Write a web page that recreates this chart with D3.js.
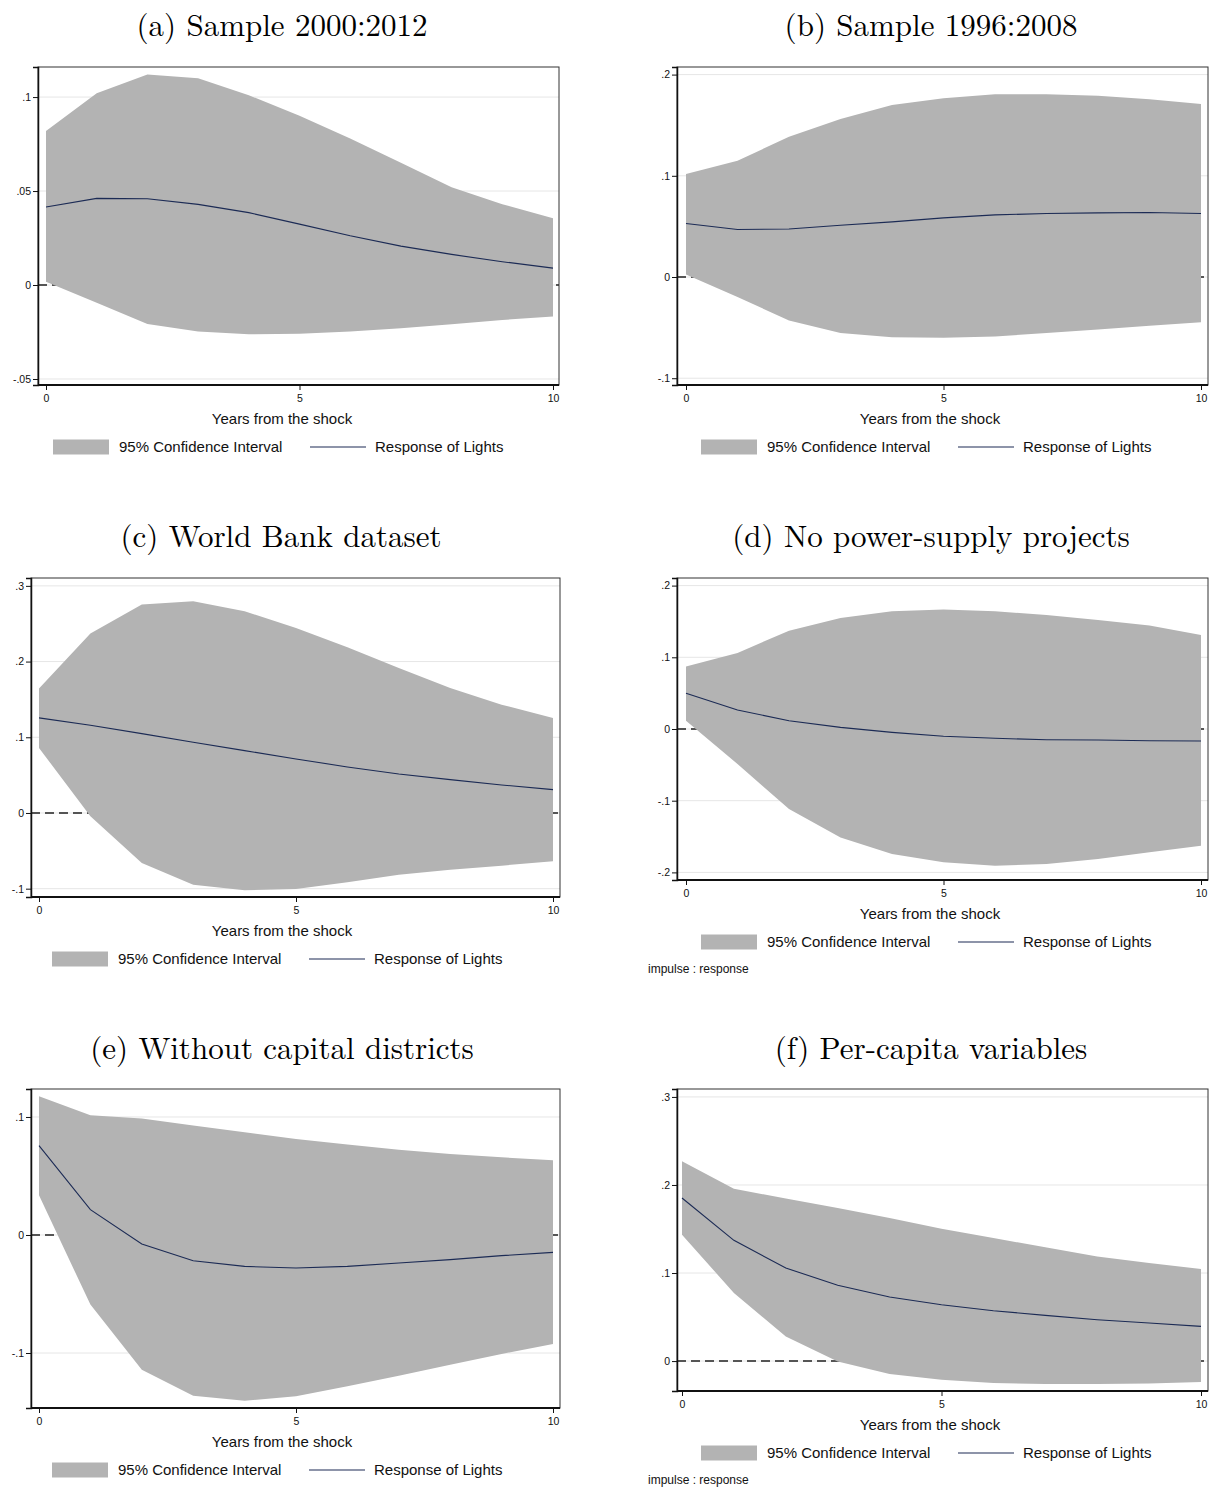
<!DOCTYPE html>
<html><head><meta charset="utf-8">
<script src="https://cdn.jsdelivr.net/npm/d3@7"></script>
<style>body{margin:0;background:#fff}svg{display:block}</style>
</head><body>
<svg id="c" width="1219" height="1488"></svg>
<script>
const years = [0,1,2,3,4,5,6,7,8,9,10];
const titles = ["(a) Sample 2000:2012","(b) Sample 1996:2008","(c) World Bank dataset","(d) No power-supply projects","(e) Without capital districts","(f) Per-capita variables"];
const xTicks = [0,5,10];
const yTicksA = [-0.05,0,0.05,0.1], yLabelsA = ["-.05","0",".05",".1"];
const yTicksB = [-0.1,0,0.1,0.2], yLabelsB = ["-.1","0",".1",".2"];
const yTicksC = [-0.1,0,0.1,0.2,0.3], yLabelsC = ["-.1","0",".1",".2",".3"];
const yTicksD = [-0.2,-0.1,0,0.1,0.2], yLabelsD = ["-.2","-.1","0",".1",".2"];
const yTicksE = [-0.1,0,0.1], yLabelsE = ["-.1","0",".1"];
const yTicksF = [0,0.1,0.2,0.3], yLabelsF = ["0",".1",".2",".3"];

const upperA = [0.082,0.102,0.112,0.110,0.101,0.090,0.078,0.065,0.052,0.043,0.0355];
const lowerA = [0.0018,-0.0094,-0.0207,-0.0248,-0.0262,-0.0259,-0.0248,-0.0230,-0.0209,-0.0186,-0.0168];
const respA  = [0.0415,0.0461,0.0459,0.0429,0.0385,0.0324,0.0262,0.0207,0.0163,0.0124,0.009];

const upperB = [0.1017,0.1149,0.1386,0.1561,0.170,0.1766,0.1805,0.1805,0.1792,0.1756,0.171];
const lowerB = [0.0026,-0.0198,-0.0429,-0.0554,-0.0594,-0.060,-0.0587,-0.0554,-0.0518,-0.0482,-0.0446];
const respB  = [0.0528,0.0469,0.0475,0.0512,0.0545,0.0584,0.0614,0.0627,0.0634,0.0637,0.0627];

const upperC = [0.1643,0.237,0.2753,0.2797,0.2665,0.2445,0.219,0.1916,0.165,0.143,0.1256];
const lowerC = [0.0859,-0.0044,-0.066,-0.0947,-0.1022,-0.1004,-0.0916,-0.0815,-0.0749,-0.0696,-0.0639];
const respC  = [0.1256,0.1159,0.1048,0.0934,0.0824,0.0714,0.0608,0.0515,0.044,0.037,0.0308];

const upperD = [0.087,0.106,0.1372,0.1549,0.1642,0.1665,0.1642,0.159,0.152,0.1442,0.1312];
const lowerD = [0.0116,-0.0488,-0.1116,-0.1512,-0.1744,-0.186,-0.1907,-0.1884,-0.1814,-0.172,-0.1628];
const respD  = [0.0498,0.0265,0.0116,0.0023,-0.0047,-0.0102,-0.013,-0.0149,-0.0153,-0.0163,-0.0167];

const upperE = [0.1175,0.1014,0.0986,0.0927,0.087,0.0814,0.0766,0.0723,0.0686,0.0658,0.0633];
const lowerE = [0.0336,-0.059,-0.1141,-0.1362,-0.1404,-0.1367,-0.1282,-0.1192,-0.1099,-0.1008,-0.0924];
const respE  = [0.0757,0.0215,-0.0076,-0.0218,-0.0266,-0.028,-0.0266,-0.0237,-0.0209,-0.0175,-0.0147];

const upperF = [0.2269,0.1958,0.1845,0.1739,0.1625,0.1504,0.1398,0.1292,0.1189,0.1114,0.1045];
const lowerF = [0.1436,0.0773,0.028,-0.0004,-0.0148,-0.0212,-0.025,-0.0261,-0.0261,-0.0254,-0.0239];
const respF  = [0.1852,0.1371,0.1057,0.086,0.0727,0.064,0.0572,0.0519,0.047,0.0432,0.0394];

const legendLabels = ["95% Confidence Interval","Response of Lights"];
const xTitle = "Years from the shock";
const noteText = "impulse : response";

// layout
const panels = [
 {t:0, box:[38,67,559,385], xr:[46,553], yd:[-0.0532,0.116], ticks:yTicksA, labels:yLabelsA, up:upperA, lo:lowerA, r:respA, tx:282, ty:36, cx:282, lx:53, note:false},
 {t:1, box:[677,67,1208,385], xr:[686,1201], yd:[-0.1067,0.2075], ticks:yTicksB, labels:yLabelsB, up:upperB, lo:lowerB, r:respB, tx:931, ty:36, cx:930, lx:701, note:false},
 {t:2, box:[31,578,560,897], xr:[39,553], yd:[-0.111,0.3104], ticks:yTicksC, labels:yLabelsC, up:upperC, lo:lowerC, r:respC, tx:281, ty:547, cx:282, lx:52, note:false},
 {t:3, box:[677,578,1208,880], xr:[686,1201], yd:[-0.2106,0.2106], ticks:yTicksD, labels:yLabelsD, up:upperD, lo:lowerD, r:respD, tx:931, ty:547, cx:930, lx:701, note:true},
 {t:4, box:[31,1089,560,1408], xr:[39,553], yd:[-0.1466,0.1237], ticks:yTicksE, labels:yLabelsE, up:upperE, lo:lowerE, r:respE, tx:282, ty:1059, cx:282, lx:52, note:false},
 {t:5, box:[677,1089,1208,1391], xr:[682,1201], yd:[-0.034,0.309], ticks:yTicksF, labels:yLabelsF, up:upperF, lo:lowerF, r:respF, tx:931, ty:1059, cx:930, lx:701, note:true}
];

const svg = d3.select("#c");
const sans = "Liberation Sans, Arial, sans-serif";
const bandColor = "#b3b3b3", lineColor = "#1c2b55";

panels.forEach(p => {
  const [L,T,R,B] = p.box;
  const x = d3.scaleLinear().domain([0,10]).range(p.xr);
  const y = d3.scaleLinear().domain(p.yd).range([B,T]);
  const g = svg.append("g");

  g.append("text").attr("x",p.tx).attr("y",p.ty).attr("text-anchor","middle")
    .attr("font-family","Latin Modern Roman, CMU Serif, DejaVu Serif, serif").attr("font-size",31)
    .attr("fill","#000").text(titles[p.t]);

  // gridlines
  g.selectAll(".grid").data(p.ticks).enter().append("line")
    .attr("x1",L).attr("x2",R).attr("y1",d=>y(d)).attr("y2",d=>y(d))
    .attr("stroke","#e6e6e6").attr("stroke-width",1);
  // zero dashed line
  g.append("line").attr("x1",L).attr("x2",R).attr("y1",y(0)).attr("y2",y(0))
    .attr("stroke","#222").attr("stroke-width",1.4).attr("stroke-dasharray","9,5");

  const area = d3.area().x((d,i)=>x(years[i])).y0((d,i)=>y(p.lo[i])).y1(d=>y(d));
  g.append("path").attr("d",area(p.up)).attr("fill",bandColor);

  const line = d3.line().x((d,i)=>x(years[i])).y(d=>y(d));
  g.append("path").attr("d",line(p.r)).attr("fill","none").attr("stroke",lineColor).attr("stroke-width",1.1);

  // frame
  g.append("rect").attr("x",L).attr("y",T).attr("width",R-L).attr("height",B-T)
    .attr("fill","none").attr("stroke","#333").attr("stroke-width",1);

  // y axis
  const ya = d3.axisLeft(y).tickValues(p.ticks).tickFormat((d,i)=>p.labels[i]).tickSize(5).tickPadding(2);
  const yg = g.append("g").attr("transform",`translate(${L},0)`).call(ya);
  yg.select(".domain").attr("stroke","#111").attr("stroke-width",1.5);
  yg.selectAll("text").attr("font-family",sans).attr("font-size",10.5).attr("fill","#111");
  yg.selectAll(".tick line").attr("stroke","#111");

  // x axis
  const xa = d3.axisBottom(x).tickValues(xTicks).tickSize(5).tickPadding(5);
  const xg = g.append("g").attr("transform",`translate(0,${B})`).call(xa);
  xg.select(".domain").attr("d",`M${L},0H${R}`).attr("stroke","#111").attr("stroke-width",2);
  xg.selectAll("text").attr("font-family",sans).attr("font-size",10.5).attr("fill","#111");
  xg.selectAll(".tick line").attr("stroke","#111");

  g.append("text").attr("x",p.cx).attr("y",B+39).attr("text-anchor","middle")
    .attr("font-family",sans).attr("font-size",15).attr("fill","#111").text(xTitle);

  // legend
  const ly = B+62;
  g.append("rect").attr("x",p.lx).attr("y",ly-7.5).attr("width",56).attr("height",15).attr("fill",bandColor);
  g.append("text").attr("x",p.lx+66).attr("y",ly+5).attr("font-family",sans).attr("font-size",15).attr("fill","#111").text(legendLabels[0]);
  g.append("line").attr("x1",p.lx+257).attr("x2",p.lx+313).attr("y1",ly).attr("y2",ly).attr("stroke",lineColor).attr("stroke-width",1.1);
  g.append("text").attr("x",p.lx+322).attr("y",ly+5).attr("font-family",sans).attr("font-size",15).attr("fill","#111").text(legendLabels[1]);

  if (p.note) {
    g.append("text").attr("x",648).attr("y",B+93).attr("font-family",sans).attr("font-size",12).attr("fill","#111").text(noteText);
  }
});
</script>
</body></html>
